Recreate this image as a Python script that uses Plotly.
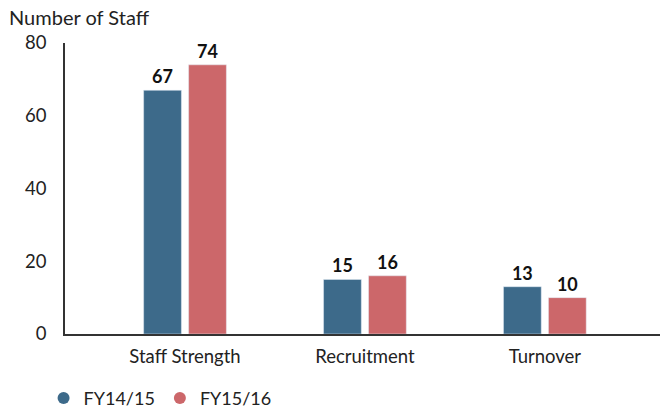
import plotly.graph_objects as go

categories = ["Staff Strength", "Recruitment", "Turnover"]
fy1415 = [67, 15, 13]
fy1516 = [74, 16, 10]
series_names = ["FY14/15", "FY15/16"]
colors = ["#3d6a8a", "#cc676a"]
y_ticks = [0, 20, 40, 60, 80]

FONT = "Lato, 'Open Sans', sans-serif"

fig = go.Figure()
for name, vals, col in zip(series_names, [fy1415, fy1516], colors):
    fig.add_trace(go.Bar(
        x=categories, y=vals, name=name, marker_color=col, showlegend=False,
        text=[str(v) for v in vals], textposition="outside", cliponaxis=False,
        textfont=dict(family=FONT, size=18, color="#111111", weight="bold"),
    ))
for name, col in zip(series_names, colors):
    fig.add_trace(go.Scatter(
        x=[None], y=[None], mode="markers", name=name,
        marker=dict(color=col, size=12, symbol="circle"),
    ))

fig.update_layout(
    width=663, height=409,
    margin=dict(l=65, r=3, t=43, b=75, autoexpand=False),
    plot_bgcolor="white", paper_bgcolor="white",
    barmode="group", bargap=0.5, bargroupgap=0.16,
    font=dict(family=FONT, size=18, color="#222222"),
    legend=dict(orientation="h", x=-0.036, xanchor="left", y=-0.157, yanchor="top",
                xref="paper", font=dict(size=18), itemwidth=30,
                traceorder="normal"),
    annotations=[dict(text="Number of Staff", xref="paper", yref="paper",
                      x=-58/595, y=1.0, xanchor="left", yanchor="bottom",
                      yshift=12, showarrow=False, font=dict(size=20, color="#222222"))],
)
fig.update_xaxes(
    type="category", range=[-0.667, 2.64], automargin=False,
    showline=True, linecolor="#333333", linewidth=1.5,
    ticks="", showgrid=False, tickfont=dict(size=18.5), ticklabelstandoff=5,
    fixedrange=True,
)
fig.update_yaxes(
    range=[0, 80], tickvals=y_ticks, automargin=False,
    showline=True, linecolor="#333333", linewidth=1.5,
    showgrid=False, zeroline=False, ticks="", ticklabelstandoff=13,
    tickfont=dict(size=18.5), fixedrange=True,
)

fig.write_html("out.html", config={"displayModeBar": False},
               post_script="document.body.style.margin='0';document.body.style.overflow='hidden';")
